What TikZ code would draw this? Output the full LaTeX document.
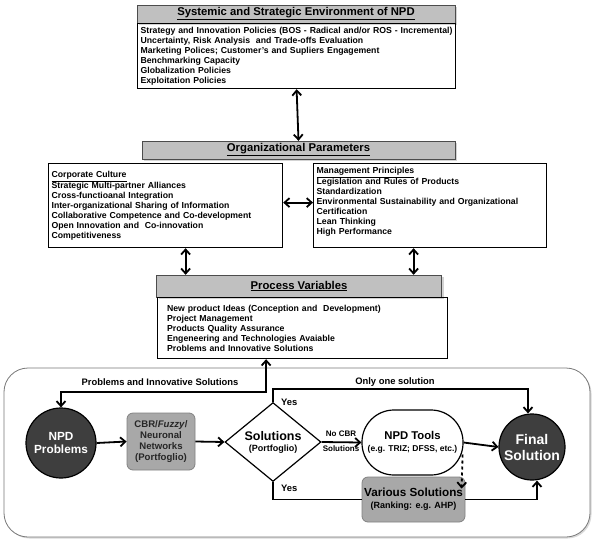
\documentclass[tikz,border=0pt]{standalone}
\usepackage{fontspec}
\setmainfont{Liberation Sans}
\usetikzlibrary{arrows.meta,shadows,positioning,shapes.geometric}
\definecolor{hdrgray}{RGB}{192,192,192}
\definecolor{dark}{RGB}{62,62,62}
\definecolor{boxgray}{RGB}{168,168,168}
\definecolor{boxedge}{RGB}{130,130,130}
\definecolor{framegray}{RGB}{120,120,120}
\begin{document}
\begin{tikzpicture}[x=1pt,y=-1pt,
  tip/.tip={Straight Barb[length=5pt,width=9pt]},
  hdr/.style={draw=black!70,fill=hdrgray,minimum height=18pt,inner sep=0pt,
    font=\fontsize{11.3}{12}\selectfont\bfseries,drop shadow={opacity=0.35,shadow xshift=2pt,shadow yshift=-2pt}},
  txtbox/.style={draw,line width=1.2pt,align=left,anchor=north west,inner xsep=3pt,inner ysep=0pt,
    font=\fontsize{8.7}{9.9}\selectfont\bfseries},
  arr/.style={line width=1.8pt,-tip},
  darr/.style={line width=1.8pt,tip-tip},
  lbl/.style={font=\fontsize{9.4}{10}\selectfont\bfseries,inner sep=1pt},
  darkcirc/.style={circle,draw=black,line width=1.2pt,fill=dark,text=white,align=center,inner sep=0pt},
  graybox/.style={draw=boxedge,line width=0.8pt,fill=boxgray,rounded corners=6pt,align=center,inner sep=0pt},
  conn/.style={line width=1.8pt}
]
\useasboundingbox (0,0) rectangle (596,543);
% frame
\node[draw=framegray,line width=0.8pt,rounded corners=24pt,minimum width=586pt,minimum height=169pt,inner sep=0pt,
  drop shadow={opacity=0.3,shadow xshift=1.5pt,shadow yshift=-1.5pt},fill=white] (frame) at (297,452.5) {};
% top block
\node[hdr,minimum width=318pt] (hdrA) at (296,14) {\underline{Systemic and Strategic Environment of NPD}};
\node[txtbox,minimum width=318pt,minimum height=65pt,text width=312pt] (boxA) at (137,23) {Strategy and Innovation Policies (BOS - Radical and/or ROS - Incremental)\\
Uncertainty, Risk Analysis \ and Trade-offs Evaluation\\
Marketing Polices; Customer's and Supliers Engagement\\
Benchmarking Capacity\\
Globalization Policies\\
Exploitation Policies};
% organizational
\node[hdr,minimum width=313pt] (hdrB) at (298.5,150) {\underline{Organizational Parameters}};
\node[txtbox,minimum width=234pt,minimum height=84pt,text width=228pt] (boxC) at (48,163) {\underline{Corporate Culture}\\
Strategic Multi-partner Alliances\\
Cross-functioanal Integration\\
Inter-organizational Sharing of Information\\
Collaborative Competence and Co-development\\
Open Innovation and \ Co-innovation\\
Competitiveness};
\node[txtbox,minimum width=233pt,minimum height=84pt,text width=227pt] (boxM) at (313,163) {\underline{Management Principles}\\
Legislation and Rules of Products\\
Standardization\\
Environmental Sustainability and Organizational\\
Certification\\
Lean Thinking\\
High Performance\\ \mbox{}};
% process
\node[hdr,minimum width=285pt,minimum height=22pt] (hdrP) at (299,286) {\underline{Process Variables}};
\node[txtbox,minimum width=285pt,minimum height=61pt,text width=270pt,inner xsep=10pt] (boxP) at (156.5,297) {New product Ideas (Conception and \ Development)\\
Project Management\\
Products Quality Assurance\\
Engeneering and Technologies Avaiable\\
Problems and Innovative Solutions};
% arrows upper
\draw[darr] (boxA.south) -- (hdrB.north);
\draw[darr] ([yshift=3pt]boxC.east) -- ([yshift=3pt]boxM.west);
\draw[darr] ([xshift=20pt]boxC.south) -- ([xshift=20pt]boxC.south |- hdrP.north);
\draw[darr] ([xshift=-16.5pt]boxM.south) -- ([xshift=-16.5pt]boxM.south |- hdrP.north);
% lower nodes
\node[darkcirc,minimum size=70pt,font=\fontsize{11.8}{13.5}\selectfont\bfseries] (npd) at (61,443) {NPD\\Problems};
\node[graybox,minimum width=68pt,minimum height=57pt,font=\fontsize{9.6}{11}\selectfont\bfseries,text=black!85] (cbr) at (161,441.5) {CBR/\textit{Fuzzy}/\\Neuronal\\Networks\\(Portfoglio)};
\node[draw,line width=1.2pt,diamond,minimum width=96pt,minimum height=70pt,inner sep=0pt,align=center] (dia) at (273,442)
  {{\fontsize{12.5}{13}\selectfont\bfseries Solutions}\\[-1pt]{\fontsize{9}{10}\selectfont\bfseries (Portfoglio)}};
\node[draw,line width=1.2pt,rounded corners=32pt,minimum width=101pt,minimum height=65pt,inner sep=0pt,align=center,fill=white] (tools) at (412.5,442.5)
  {{\fontsize{11.3}{13}\selectfont\bfseries NPD Tools}\\{\fontsize{8.5}{9}\selectfont\bfseries (e.g. TRIZ; DFSS, etc.)}};
\node[graybox,minimum width=103pt,minimum height=45pt] (var) at (413.5,499.5)
  {{\fontsize{11.7}{13}\selectfont\bfseries Various Solutions}\\{\fontsize{9}{10}\selectfont\bfseries (Ranking: e.g. AHP)}};
\node[darkcirc,minimum size=66pt,font=\fontsize{14}{16}\selectfont\bfseries] (fin) at (532,447) {Final\\Solution};
% lower connectors
\coordinate (turnA) at (61,392);
\draw[conn,tip-tip] ([xshift=-36pt]boxP.south) |- (turnA) -- (npd.north);
\node[lbl] at (160,382) {Problems and Innovative Solutions};
\draw[arr] (npd.east) -- (cbr.west);
\draw[arr] (cbr.west -| cbr.east) -- (dia.west);
\coordinate (turnB) at (528,389);
\draw[arr] (dia.north) |- (turnB) -- (turnB |- fin.north);
\node[lbl] at (395,382) {Only one solution};
\node[lbl,anchor=west] at (280,402) {Yes};
\draw[conn] (dia.south) |- (var.west);
\node[lbl,anchor=west] at (280,488) {Yes};
\draw[arr] (dia.east) -- (tools.west);
\node[font=\fontsize{8}{8}\selectfont\bfseries,inner sep=0pt] at (341,434) {No CBR};
\node[font=\fontsize{8}{8}\selectfont\bfseries,inner sep=0pt] at (341,449) {Solutions};
\draw[arr] (tools.east) -- (fin.west);
\draw[line width=1.8pt,dashed,-tip] ([xshift=-1pt,yshift=-12pt]tools.east) -- ([xshift=-2pt,yshift=-12pt]tools.east |- var.north);
\draw[arr] (var.east) -| ([xshift=5pt]fin.south);
\end{tikzpicture}
\end{document}
